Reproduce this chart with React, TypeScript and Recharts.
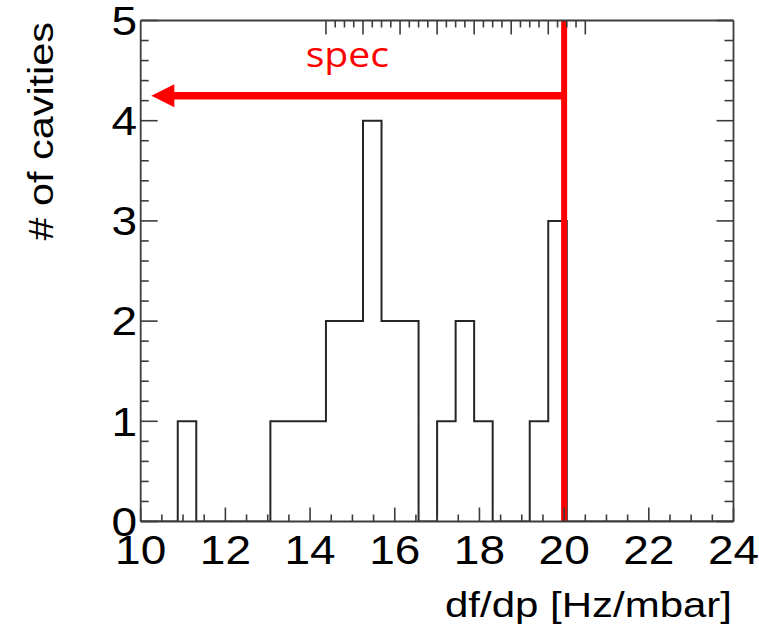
import {
  ComposedChart,
  Line,
  XAxis,
  YAxis,
  ReferenceLine,
  ReferenceDot,
} from "recharts";

// lower edges of the 32 histogram bins (10 .. 24)
const binLow = [
  10, 10.4375, 10.875, 11.3125, 11.75, 12.1875, 12.625, 13.0625, 13.5, 13.9375,
  14.375, 14.8125, 15.25, 15.6875, 16.125, 16.5625, 17, 17.4375, 17.875,
  18.3125, 18.75, 19.1875, 19.625, 20.0625, 20.5, 20.9375, 21.375, 21.8125,
  22.25, 22.6875, 23.125, 23.5625,
];
const cavities = [
  0, 0, 1, 0, 0, 0, 0, 1, 1, 1, 2, 2, 4, 2, 2, 0, 1, 2, 1, 0, 0, 1, 3, 0, 0, 0,
  0, 0, 0, 0, 0, 0,
];
const xTicks = [
  10, 10.5, 11, 11.5, 12, 12.5, 13, 13.5, 14, 14.5, 15, 15.5, 16, 16.5, 17,
  17.5, 18, 18.5, 19, 19.5, 20, 20.5, 21, 21.5, 22, 22.5, 23, 23.5, 24,
];
const yTicks = [
  0, 0.2, 0.4, 0.6, 0.8, 1, 1.2, 1.4, 1.6, 1.8, 2, 2.2, 2.4, 2.6, 2.8, 3, 3.2,
  3.4, 3.6, 3.8, 4, 4.2, 4.4, 4.6, 4.8, 5,
];
const specLimit = 20;
const arrowLevel = 4.25;
const arrowTip = 10.25;

const data = binLow
  .map((x, i) => ({ x, count: cavities[i] }))
  .concat([{ x: 24, count: 0 }]);

const FRAME = "#3c3c3c";
const RED = "#ff0000";
const FONT = "'Liberation Sans', Arial, Helvetica, sans-serif";

const BottomTick = (props: any) => {
  const { x, y, payload } = props;
  const major = payload.value % 2 === 0;
  return (
    <g>
      <line x1={x} x2={x} y1={y} y2={y - (major ? 14 : 7)} stroke={FRAME} strokeWidth={1.6} />
      {major && (
        <text
          transform={`translate(${x},${y + 42.5}) scale(1.15,1)`}
          textAnchor="middle"
          fontFamily={FONT}
          fontSize={40}
          fill="#000"
        >
          {payload.value}
        </text>
      )}
    </g>
  );
};

const TopTick = (props: any) => {
  const { x, y, payload } = props;
  const major = payload.value % 2 === 0;
  return <line x1={x} x2={x} y1={y} y2={y + (major ? 14 : 7)} stroke={FRAME} strokeWidth={1.6} />;
};

const LeftTick = (props: any) => {
  const { x, y, payload } = props;
  const major = Number.isInteger(payload.value);
  return (
    <g>
      <line x1={x} x2={x + (major ? 17 : 8)} y1={y} y2={y} stroke={FRAME} strokeWidth={1.6} />
      {major && (
        <text
          transform={`translate(${x - 3.5},${y + 14.3}) scale(1.15,1)`}
          textAnchor="end"
          fontFamily={FONT}
          fontSize={40}
          fill="#000"
        >
          {payload.value}
        </text>
      )}
    </g>
  );
};

const RightTick = (props: any) => {
  const { x, y, payload } = props;
  const major = Number.isInteger(payload.value);
  return <line x1={x} x2={x - (major ? 17 : 9)} y1={y} y2={y} stroke={FRAME} strokeWidth={1.6} />;
};

export default function App() {
  return (
    <div style={{ position: "absolute", left: 0, top: 0, background: "#fff" }}>
      <ComposedChart
        width={759}
        height={631}
        data={data}
        margin={{ top: 19.5, right: 24.5, bottom: 108.5, left: 139.7 }}
      >
        <XAxis
          dataKey="x"
          type="number"
          domain={[10, 24]}
          ticks={xTicks}
          interval={0}
          allowDataOverflow
          height={1}
          tickSize={0}
          tickMargin={0}
          tickLine={false}
          axisLine={{ stroke: FRAME, strokeWidth: 1.8 }}
          tick={BottomTick}
          label={(p: any) => {
            const vb = p.viewBox;
            return (
              <text
                transform={`translate(${vb.x + vb.width - 1.5},${vb.y + 95.5}) scale(1.2,1)`}
                textAnchor="end"
                fontFamily={FONT}
                fontSize={35}
                fill="#000"
              >
                df/dp [Hz/mbar]
              </text>
            );
          }}
        />
        <XAxis
          xAxisId="top"
          orientation="top"
          type="number"
          domain={[10, 24]}
          ticks={xTicks}
          interval={0}
          allowDataOverflow
          height={1}
          tickSize={0}
          tickMargin={0}
          tickLine={false}
          axisLine={{ stroke: FRAME, strokeWidth: 1.8 }}
          tick={TopTick}
        />
        <YAxis
          type="number"
          domain={[0, 5]}
          ticks={yTicks}
          interval={0}
          allowDataOverflow
          width={1}
          tickSize={0}
          tickMargin={0}
          tickLine={false}
          axisLine={{ stroke: FRAME, strokeWidth: 1.8 }}
          tick={LeftTick}
          label={(p: any) => {
            const vb = p.viewBox;
            return (
              <text
                transform={`translate(53,${vb.y + 1.5}) rotate(-90) scale(1.2,1)`}
                textAnchor="end"
                fontFamily={FONT}
                fontSize={34.5}
                fill="#000"
              >
                # of cavities
              </text>
            );
          }}
        />
        <YAxis
          yAxisId="right"
          orientation="right"
          type="number"
          domain={[0, 5]}
          ticks={yTicks}
          interval={0}
          allowDataOverflow
          width={1}
          tickSize={0}
          tickMargin={0}
          tickLine={false}
          axisLine={{ stroke: FRAME, strokeWidth: 1.8 }}
          tick={RightTick}
        />
        <Line
          dataKey="count"
          type="stepAfter"
          stroke="#262626"
          strokeWidth={2}
          dot={false}
          activeDot={false}
          isAnimationActive={false}
        />
        <ReferenceLine x={specLimit} stroke={RED} strokeWidth={6} />
        <ReferenceLine
          segment={[
            { x: 10.7, y: arrowLevel },
            { x: specLimit, y: arrowLevel },
          ]}
          stroke={RED}
          strokeWidth={7.5}
        />
        <ReferenceDot
          x={arrowTip}
          y={arrowLevel}
          r={0}
          shape={(p: any) => (
            <polygon
              points={`${p.cx},${p.cy} ${p.cx + 23},${p.cy - 11.5} ${p.cx + 23},${p.cy + 11.5}`}
              fill={RED}
            />
          )}
        />
        <ReferenceDot
          x={14.88}
          y={4.54}
          r={0}
          shape={(p: any) => (
            <text
              transform={`translate(${p.cx},${p.cy}) scale(1.12,1)`}
              textAnchor="middle"
              fontFamily="'Open Sans', 'Noto Sans', sans-serif"
              fontSize={35}
              fill={RED}
            >
              spec
            </text>
          )}
        />
      </ComposedChart>
    </div>
  );
}
